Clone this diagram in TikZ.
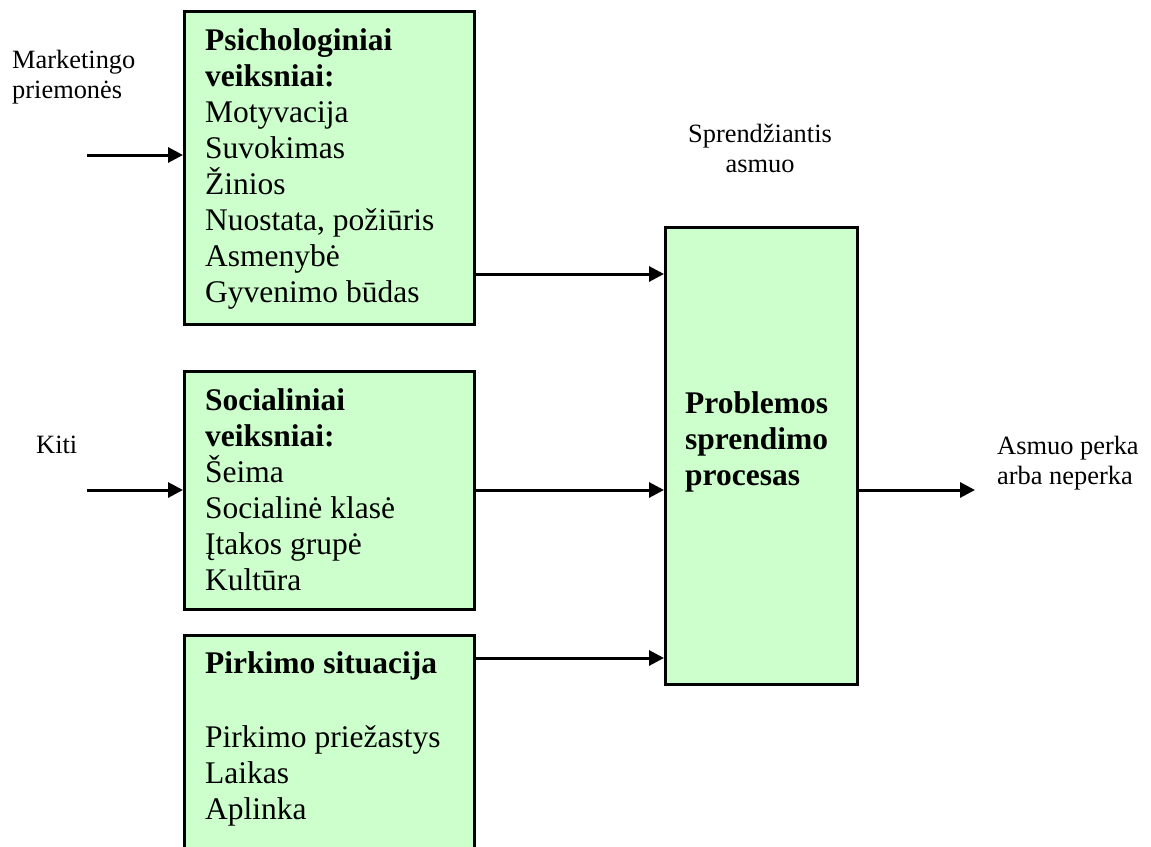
\documentclass[tikz,border=0pt]{standalone}
\usepackage{fontspec}
\setmainfont{Liberation Serif}
\usetikzlibrary{arrows.meta}
\definecolor{boxgreen}{RGB}{204,255,204}
\tikzset{
  factorbox/.style={draw=black, line width=2.5pt, fill=boxgreen, rectangle,
    anchor=north west, inner sep=0pt},
  boxtext/.style={anchor=base west, align=left, inner sep=0pt,
    font=\fontsize{31.5}{36}\selectfont},
  smalltext/.style={inner sep=0pt, font=\fontsize{26.4}{30}\selectfont},
  flow/.style={line width=3pt, -{Triangle[length=15pt,width=15pt]}}
}
\begin{document}
\begin{tikzpicture}[x=1pt,y=-1pt]
\clip (0,0) rectangle (1151,846);

% factor boxes
\node[factorbox, minimum width=290pt, minimum height=313pt] (psy) at (183,10) {};
\node[factorbox, minimum width=290pt, minimum height=238pt] (soc) at (183,370) {};
\node[factorbox, minimum width=290pt, minimum height=260pt] (sit) at (183,634) {};
\node[factorbox, minimum width=192pt, minimum height=457pt] (dec) at (664,226) {};

% box contents (placed by the baseline of their last line)
\node[boxtext] (psyt) at (205,302) {\textbf{Psichologiniai}\\\textbf{veiksniai:}\\Motyvacija\\Suvokimas\\Žinios\\Nuostata, požiūris\\Asmenybė\\Gyvenimo būdas};
\node[boxtext] (soct) at (205,590) {\textbf{Socialiniai}\\\textbf{veiksniai:}\\Šeima\\Socialinė klasė\\Įtakos grupė\\Kultūra};
\node[boxtext] (sitt) at (205,819) {\textbf{Pirkimo situacija}\\[38pt]Pirkimo priežastys\\Laikas\\Aplinka};
\node[boxtext] (dect) at (685,485) {\textbf{Problemos}\\\textbf{sprendimo}\\\textbf{procesas}};

% outside labels
\node[smalltext, anchor=base west, align=left] (mkt) at (12,98) {Marketingo\\priemonės};
\node[smalltext, anchor=base west] (kiti) at (36,453) {Kiti};
\node[smalltext, anchor=base, align=center] (who) at (760,172) {Sprendžiantis\\asmuo};
\node[smalltext, anchor=base west, align=left] (out) at (997,484) {Asmuo perka\\arba neperka};

% free ends and arrow levels
\coordinate (mkin) at (87,155);
\coordinate (kin) at (87,490);
\coordinate (lv1) at (0,274);
\coordinate (lv2) at (0,490);
\coordinate (lv3) at (0,658);
\coordinate (res) at (975,490);

% connectors
\draw[flow] (mkin) -- (mkin -| psy.west);
\draw[flow] (kin) -- (kin -| soc.west);
\draw[flow] (psy.east |- lv1) -- (dec.west |- lv1);
\draw[flow] (soc.east |- lv2) -- (dec.west |- lv2);
\draw[flow] (sit.east |- lv3) -- (dec.west |- lv3);
\draw[flow] (dec.east |- res) -- (res);
\end{tikzpicture}
\end{document}
